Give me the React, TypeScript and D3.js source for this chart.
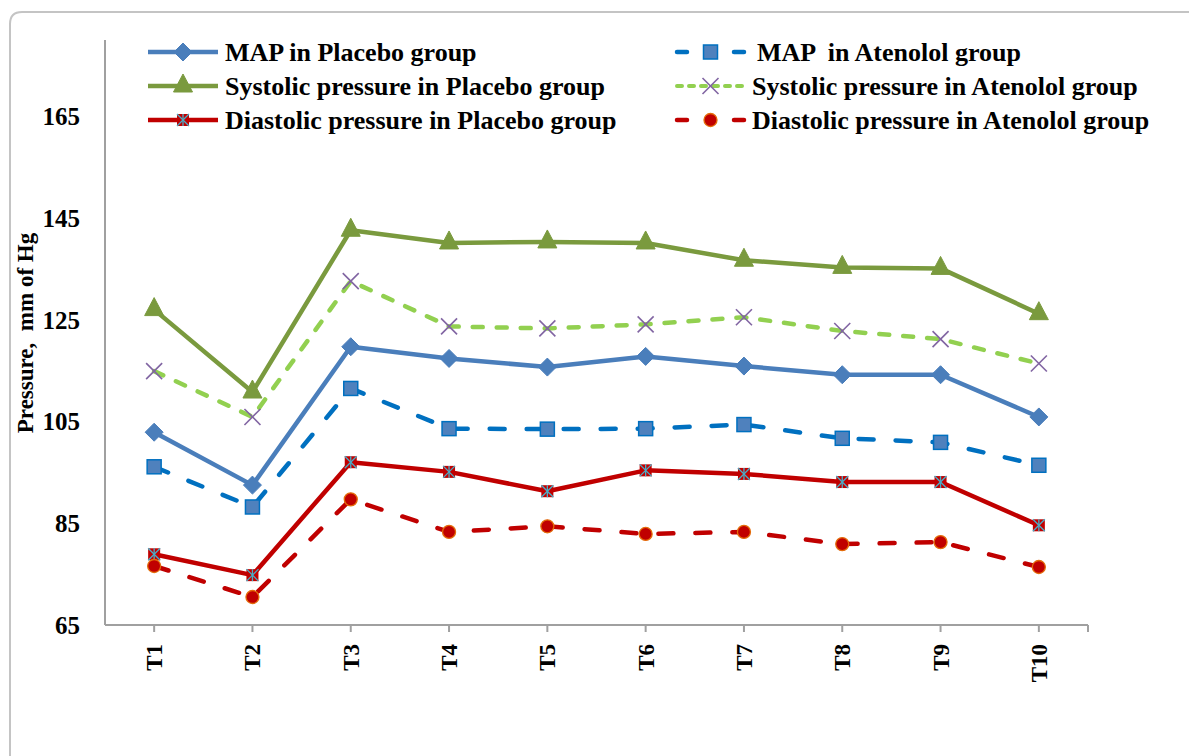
import React from "react";
import * as d3 from "d3";

const categories = ["T1", "T2", "T3", "T4", "T5", "T6", "T7", "T8", "T9", "T10"];
const mapPlacebo = [102.9, 92.5, 119.7, 117.4, 115.7, 117.8, 115.9, 114.2, 114.2, 105.9];
const mapAtenolol = [96.1, 88.2, 111.5, 103.6, 103.5, 103.6, 104.4, 101.7, 100.9, 96.4];
const sysPlacebo = [127.0, 110.8, 142.6, 140.1, 140.3, 140.1, 136.7, 135.3, 135.1, 126.2];
const sysAtenolol = [114.9, 105.9, 132.6, 123.7, 123.3, 124.1, 125.5, 122.8, 121.2, 116.4];
const diaPlacebo = [78.9, 74.8, 97.0, 95.1, 91.3, 95.4, 94.7, 93.1, 93.1, 84.6];
const diaAtenolol = [76.6, 70.5, 89.7, 83.3, 84.4, 82.9, 83.3, 80.9, 81.3, 76.4];
const yTicks = [65, 85, 105, 125, 145, 165];
const yDomain = [65, 180];
const yTitle = "Pressure,  mm of Hg";

type Marker = "diamond" | "square" | "triangle" | "x" | "star" | "circle";
interface Series {
  name: string;
  values: number[];
  color: string;
  dash: string | null;
  marker: Marker;
}

const series: Series[] = [
  { name: "MAP in Placebo group", values: mapPlacebo, color: "#4a7ebb", dash: null, marker: "diamond" },
  { name: "MAP  in Atenolol group", values: mapAtenolol, color: "#0070c0", dash: "15,22", marker: "square" },
  { name: "Systolic pressure in Placebo group", values: sysPlacebo, color: "#7a9a3e", dash: null, marker: "triangle" },
  { name: "Systolic pressure in Atenolol group", values: sysAtenolol, color: "#92d050", dash: "10,14", marker: "x" },
  { name: "Diastolic pressure in Placebo group", values: diaPlacebo, color: "#c00000", dash: null, marker: "star" },
  { name: "Diastolic pressure in Atenolol group", values: diaAtenolol, color: "#c00000", dash: "15,22", marker: "circle" },
];

const W = 1189;
const H = 756;
const plot = { left: 105, right: 1088, top: 40, bottom: 625 };
const FONT = "'Liberation Serif', 'Times New Roman', serif";

function MarkerShape({ kind, x, y }: { kind: Marker; x: number; y: number }) {
  switch (kind) {
    case "diamond":
      return (
        <path
          d={`M${x},${y - 9}L${x + 9},${y}L${x},${y + 9}L${x - 9},${y}Z`}
          fill="#4a7ebb"
          stroke="#4a7ebb"
          strokeWidth={1}
        />
      );
    case "square":
      return (
        <rect x={x - 7} y={y - 7} width={14} height={14} fill="#4f81bd" stroke="#0070c0" strokeWidth={1.5} />
      );
    case "triangle":
      return (
        <path
          d={`M${x},${y - 12}L${x + 9.5},${y + 6}L${x - 9.5},${y + 6}Z`}
          fill="#7a9a3e"
          stroke="#7a9a3e"
          strokeWidth={1}
        />
      );
    case "x":
      return (
        <g stroke="#8064a2" strokeWidth={1.6}>
          <line x1={x - 8} y1={y - 8} x2={x + 8} y2={y + 8} />
          <line x1={x - 8} y1={y + 8} x2={x + 8} y2={y - 8} />
        </g>
      );
    case "star":
      return (
        <g>
          <rect x={x - 6} y={y - 6} width={12} height={12} fill="#c00000" />
          <g stroke="#4bacc6" strokeWidth={1.3}>
            <line x1={x - 6} y1={y - 6} x2={x + 6} y2={y + 6} />
            <line x1={x - 6} y1={y + 6} x2={x + 6} y2={y - 6} />
            <line x1={x} y1={y - 6} x2={x} y2={y + 6} />
          </g>
        </g>
      );
    case "circle":
      return <circle cx={x} cy={y} r={6.5} fill="#c00000" stroke="#e46c0a" strokeWidth={1.3} />;
  }
  return null;
}

export default function App() {
  const x = d3
    .scaleBand<string>()
    .domain(categories)
    .range([plot.left, plot.right])
    .paddingInner(0)
    .paddingOuter(0);
  const cx = (c: string) => (x(c) as number) + x.bandwidth() / 2;
  const y = d3.scaleLinear().domain(yDomain).range([plot.bottom, plot.top]);

  const line = d3
    .line<number>()
    .x((_, i) => cx(categories[i]))
    .y((d) => y(d));

  const legendRows = [52, 86, 120];
  const legendCols = [
    { x1: 148, x2: 218, tx: 225 },
    { x1: 675, x2: 746, tx: 752 },
  ];

  return (
    <svg
      width={W}
      height={H}
      style={{ position: "absolute", left: 0, top: 0, background: "#ffffff" }}
      fontFamily={FONT}
    >
      <rect x={0} y={0} width={W} height={H} fill="#ffffff" />
      {/* outer frame */}
      <path d={`M10,${H}L10,24Q10,12 22,12L${W},12`} fill="none" stroke="#c4c4c4" strokeWidth={2} />

      {/* axes */}
      <g stroke="#a0a0a0" strokeWidth={2} fill="none">
        <line x1={plot.left} y1={plot.top} x2={plot.left} y2={plot.bottom} />
        <line x1={plot.left} y1={plot.bottom} x2={plot.right} y2={plot.bottom} />
        {categories.map((c) => (
          <line key={c} x1={cx(c)} y1={plot.bottom} x2={cx(c)} y2={plot.bottom + 7} />
        ))}
        <line x1={plot.right} y1={plot.bottom} x2={plot.right} y2={plot.bottom + 7} />
      </g>

      {/* y tick labels */}
      {yTicks.map((t) => (
        <text
          key={t}
          x={80}
          y={y(t)}
          dy="0.35em"
          textAnchor="end"
          fontSize={25}
          fontWeight="bold"
          fill="#000"
        >
          {t}
        </text>
      ))}

      {/* x tick labels */}
      {categories.map((c) => (
        <text
          key={c}
          transform={`translate(${cx(c) + 8},644) rotate(-90)`}
          textAnchor="end"
          fontSize={23}
          fontWeight="bold"
          fill="#000"
        >
          {c}
        </text>
      ))}

      {/* y title */}
      <text
        transform={`translate(33,333) rotate(-90)`}
        textAnchor="middle"
        fontSize={23}
        fontWeight="bold"
        fill="#000"
        style={{ whiteSpace: "pre" }}
      >
        {yTitle}
      </text>

      {/* series */}
      {series.map((s) => (
        <g key={s.name}>
          <path
            d={line(s.values) as string}
            fill="none"
            stroke={s.color}
            strokeWidth={4.5}
            strokeDasharray={s.dash ?? undefined}
            strokeLinecap={s.dash ? "round" : "butt"}
            strokeLinejoin="round"
          />
          {s.values.map((v, i) => (
            <MarkerShape key={i} kind={s.marker} x={cx(categories[i])} y={y(v)} />
          ))}
        </g>
      ))}

      {/* legend */}
      {series.map((s, i) => {
        const col = legendCols[i % 2];
        const ly = legendRows[Math.floor(i / 2)];
        const mx = (col.x1 + col.x2) / 2;
        let lineEl;
        if (!s.dash) {
          lineEl = <line x1={col.x1} y1={ly} x2={col.x2} y2={ly} stroke={s.color} strokeWidth={4.5} />;
        } else if (s.marker === "x") {
          lineEl = (
            <line
              x1={col.x1 + 2}
              y1={ly}
              x2={col.x2 - 2}
              y2={ly}
              stroke={s.color}
              strokeWidth={4}
              strokeDasharray="5,7"
              strokeLinecap="round"
            />
          );
        } else {
          lineEl = (
            <g stroke={s.color} strokeWidth={4.5} strokeLinecap="round">
              <line x1={col.x1 + 2} y1={ly} x2={col.x1 + 12} y2={ly} />
              <line x1={col.x2 - 12} y1={ly} x2={col.x2 - 2} y2={ly} />
            </g>
          );
        }
        return (
          <g key={"lg" + s.name}>
            {lineEl}
            <MarkerShape kind={s.marker} x={mx} y={ly} />
            <text
              x={col.tx}
              dx={s.marker === "square" ? 5 : 0}
              y={ly}
              dy="0.35em"
              fontSize={26}
              fontWeight="bold"
              fill="#000"
              style={{ whiteSpace: "pre" }}
            >
              {s.name}
            </text>
          </g>
        );
      })}
    </svg>
  );
}
